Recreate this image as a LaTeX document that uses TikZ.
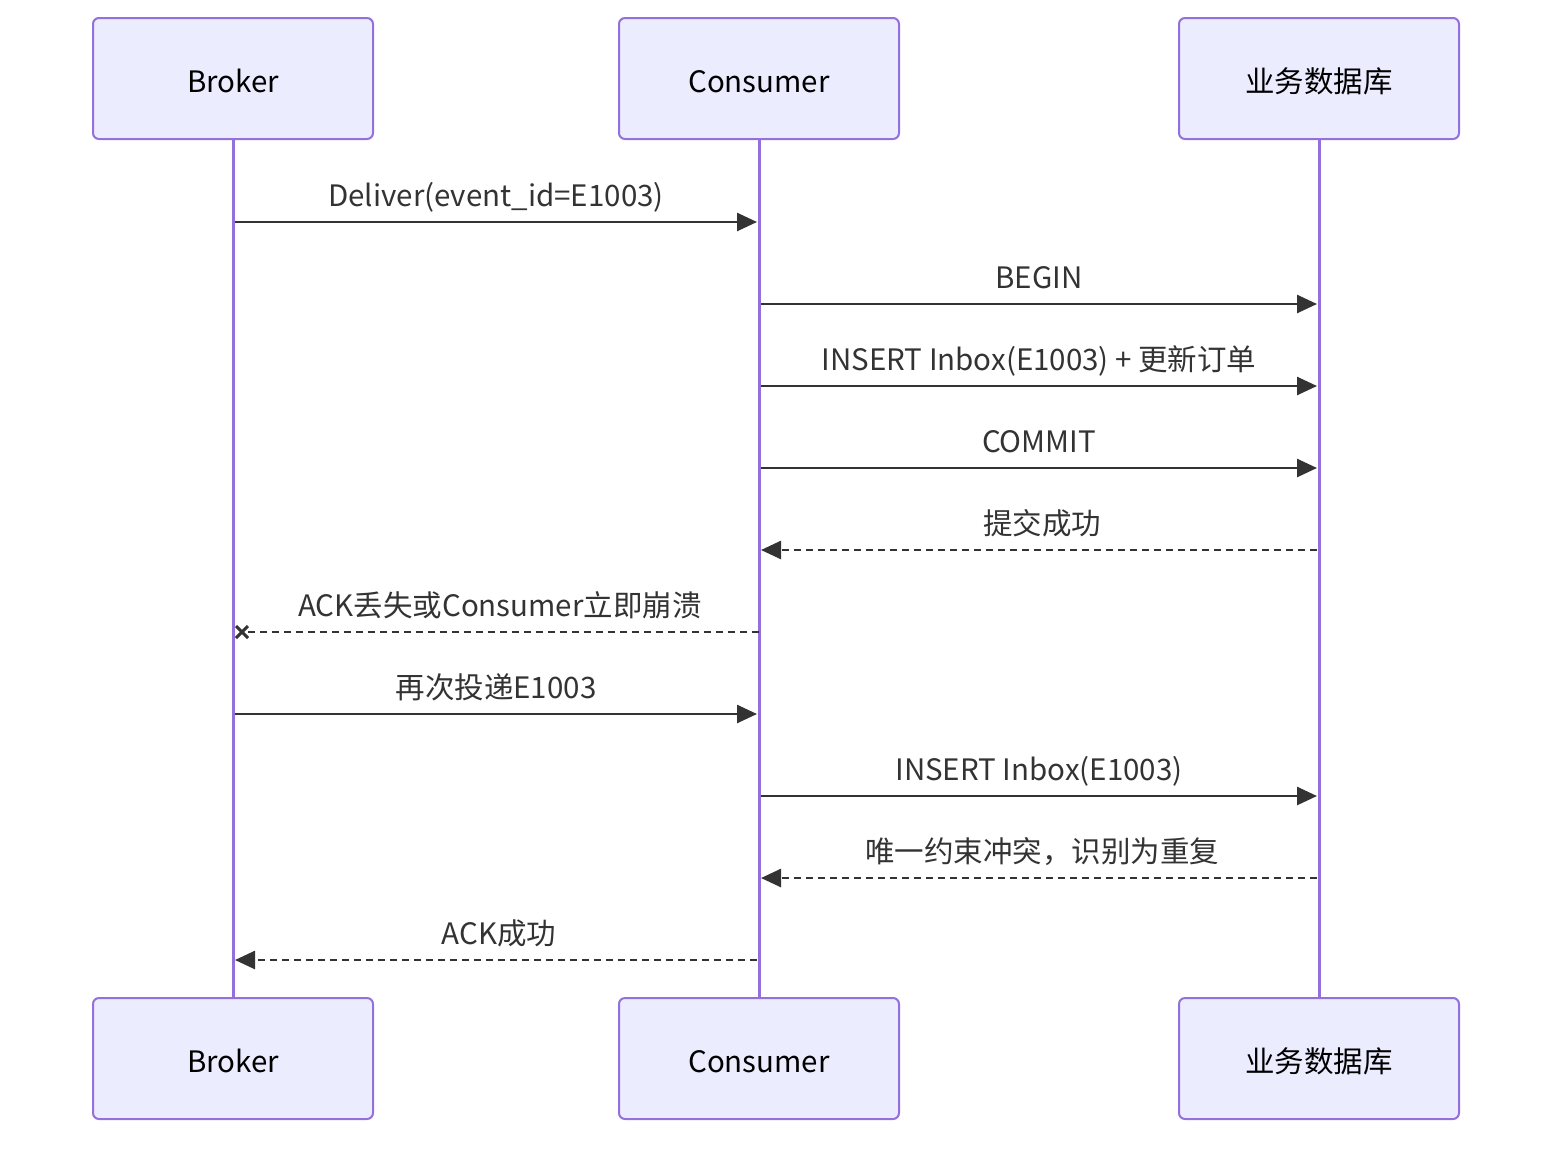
\documentclass[tikz,border=0pt]{standalone}
\usepackage{fontspec}
\setmainfont{Noto Sans CJK SC}
\usetikzlibrary{arrows.meta,calc}
\definecolor{boxfill}{HTML}{ECECFF}
\definecolor{boxline}{HTML}{9370DB}
\definecolor{msg}{HTML}{333333}
\begin{document}
\begin{tikzpicture}[x=1pt,y=-1pt,
  actor/.style={draw=boxline, fill=boxfill, line width=2pt, rounded corners=6pt,
    minimum width=280pt, minimum height=121pt, inner sep=0pt,
    text height=27pt, text depth=0pt,
    font=\fontsize{29.5}{34}\selectfont, text=black},
  life/.style={draw=boxline, line width=3pt},
  msgline/.style={draw=msg, line width=2.6pt, shorten <=2pt, shorten >=2pt,
    -{Triangle[length=20pt,width=18pt]}},
  retline/.style={msgline, dash pattern=on 7pt off 5pt},
  crossline/.style={draw=msg, line width=2.6pt, dash pattern=on 7pt off 5pt},
  xmark/.style={draw=msg, line width=3pt},
  lbl/.style={anchor=base, font=\fontsize{29.5}{34}\selectfont, text=msg, inner sep=0pt, yshift=16pt}]
\useasboundingbox (0,0) rectangle (1568,1152);
\fill[white] (0,0) rectangle (1568,1152);
% lifelines
\coordinate (blt) at (233,139);
\coordinate (blb) at (233,998);
\coordinate (clt) at (759,139);
\coordinate (clb) at (759,998);
\coordinate (dlt) at (1319,139);
\coordinate (dlb) at (1319,998);
\draw[life] (blt) -- (blb);
\draw[life] (clt) -- (clb);
\draw[life] (dlt) -- (dlb);
% actors
\node[actor] (bt) at (233,78.5) {Broker};
\node[actor] (ct) at (759,78.5) {Consumer};
\node[actor] (dt) at (1319,78.5) {业务数据库};
\node[actor] (bb) at (233,1058.5) {Broker};
\node[actor] (cb) at (759,1058.5) {Consumer};
\node[actor] (db) at (1319,1058.5) {业务数据库};
% message points
\foreach \i/\y in {1/222,2/304,3/386,4/468,5/550,6/632,7/714,8/796,9/878,10/960}{
  \coordinate (b\i) at (233,\y);
  \coordinate (c\i) at (759,\y);
  \coordinate (d\i) at (1319,\y);
}
\coordinate (x6) at (242,632);
% messages
\draw[msgline] (b1) -- (c1) node[lbl, midway] {Deliver(event\_id=E1003)};
\draw[msgline] (c2) -- (d2) node[lbl, midway] {BEGIN};
\draw[msgline] (c3) -- (d3) node[lbl, midway] {INSERT Inbox(E1003) + 更新订单};
\draw[msgline] (c4) -- (d4) node[lbl, midway] {COMMIT};
\draw[retline] (d5) -- (c5) node[lbl, midway, xshift=3pt] {提交成功};
\draw[crossline] (c6) -- (x6);
\path (b6) -- (c6) node[lbl, midway, xshift=4pt] {ACK丢失或Consumer立即崩溃};
\draw[xmark] ($(x6)+(-6,-6)$) -- ($(x6)+(6,6)$);
\draw[xmark] ($(x6)+(-6,6)$) -- ($(x6)+(6,-6)$);
\draw[msgline] (b7) -- (c7) node[lbl, midway] {再次投递E1003};
\draw[msgline] (c8) -- (d8) node[lbl, midway] {INSERT Inbox(E1003)};
\draw[retline] (d9) -- (c9) node[lbl, midway, xshift=3pt] {唯一约束冲突，识别为重复};
\draw[retline] (c10) -- (b10) node[lbl, midway, xshift=3pt] {ACK成功};
\end{tikzpicture}
\end{document}
